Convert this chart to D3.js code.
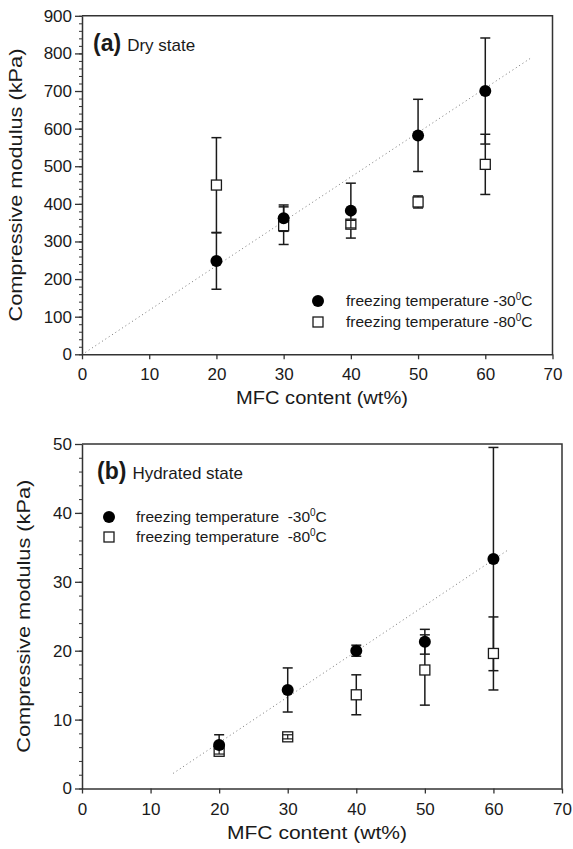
<!DOCTYPE html>
<html>
<head>
<meta charset="utf-8">
<script src="https://cdn.jsdelivr.net/npm/d3@7"></script>
<style>
  body { margin: 0; background: #fff; }
  svg { display: block; font-family: "Liberation Sans", Arial, sans-serif; }
</style>
</head>
<body>
<script>
// MFC content (wt%)
const mfc = [20, 30, 40, 50, 60];

// (a) dry state, kPa
const dryMod30 = [248, 362, 382, 582, 700];
const dryErr30 = [75, 35, 73, 96, 141];
const dryMod80 = [450, 342, 346, 405, 505];
const dryErr80 = [126, 50, 10, 16, 80];
const dryTrend = [[0.5, 5], [66.8, 788]];

// (b) hydrated state, kPa
const hydMod30 = [6.3, 14.3, 20.0, 21.3, 33.3];
const hydErr30 = [1.5, 3.2, 0.8, 1.8, 16.2];
const hydMod80 = [5.4, 7.5, 13.6, 17.2, 19.6];
const hydErr80 = [0.4, 0.3, 2.9, 5.1, 5.3];
const hydTrend = [[13.3, 2.2], [62.1, 34.6]];

const xTicks = [0, 10, 20, 30, 40, 50, 60, 70];
const dryYTicks = [0, 100, 200, 300, 400, 500, 600, 700, 800, 900];
const hydYTicks = [0, 10, 20, 30, 40, 50];

const W = 573, H = 849;
const svg = d3.select("body").append("svg")
  .attr("width", W).attr("height", H)
  .attr("viewBox", [0, 0, W, H]);

const ink = "#1a1a1a";

function drawPanel(p) {
  const x = d3.scaleLinear().domain([0, 70]).range([p.left, p.right]);
  const y = d3.scaleLinear().domain([0, p.ymax]).range([p.bottom, p.top]);
  const g = svg.append("g");

  // frame top / right
  g.append("path")
    .attr("d", `M${p.left},${p.top}H${p.right}V${p.bottom}`)
    .attr("fill", "none").attr("stroke", "#333").attr("stroke-width", 1.5);

  // minor y ticks
  g.append("g")
    .attr("transform", `translate(${p.left},0)`)
    .call(d3.axisLeft(y).tickValues(d3.range(0, p.ymax + 0.001, p.minor)).tickSize(3).tickFormat(""))
    .call(a => a.select(".domain").remove())
    .selectAll("line").attr("stroke", "#333").attr("stroke-width", 1);

  // y axis
  const ya = g.append("g")
    .attr("transform", `translate(${p.left},0)`)
    .call(d3.axisLeft(y).tickValues(p.yTicks).tickSize(7).tickPadding(3).tickSizeOuter(0));
  ya.select(".domain").attr("stroke", "#333").attr("stroke-width", 1.5);
  ya.selectAll(".tick line").attr("stroke", "#333").attr("stroke-width", 1.3);
  ya.selectAll("text").attr("font-size", 17).attr("fill", ink)
    .attr("font-family", "Liberation Sans, Arial, sans-serif");

  // x axis
  const xa = g.append("g")
    .attr("transform", `translate(0,${p.bottom})`)
    .call(d3.axisBottom(x).tickValues(xTicks).tickSize(5).tickPadding(9).tickSizeOuter(0));
  xa.select(".domain").attr("stroke", "#333").attr("stroke-width", 1.5);
  xa.selectAll(".tick line").attr("stroke", "#333").attr("stroke-width", 1.3);
  xa.selectAll("text").attr("font-size", 17).attr("fill", ink)
    .attr("font-family", "Liberation Sans, Arial, sans-serif");

  // axis titles
  g.append("text")
    .attr("transform", `translate(${p.yTitleX},${(p.top + p.bottom) / 2}) rotate(-90)`)
    .attr("text-anchor", "middle").attr("font-size", 19).attr("fill", ink)
    .attr("textLength", 273).attr("lengthAdjust", "spacingAndGlyphs")
    .text("Compressive modulus (kPa)");
  g.append("text")
    .attr("x", p.xTitleX).attr("y", p.xTitleY)
    .attr("text-anchor", "middle").attr("font-size", 18).attr("fill", ink)
    .attr("textLength", p.xTitleLen).attr("lengthAdjust", "spacingAndGlyphs")
    .text("MFC content (wt%)");

  // panel label
  const lab = g.append("text").attr("x", p.labX).attr("y", p.labY).attr("fill", ink);
  lab.append("tspan").attr("font-size", 23).attr("font-weight", "bold").text(p.tag);
  lab.append("tspan").attr("font-size", 17).attr("dx", 6).text(p.title);

  // trend line
  g.append("line")
    .attr("x1", x(p.trend[0][0])).attr("y1", y(p.trend[0][1]))
    .attr("x2", x(p.trend[1][0])).attr("y2", y(p.trend[1][1]))
    .attr("stroke", "#777").attr("stroke-width", 1).attr("stroke-dasharray", "1,3");

  const s30 = mfc.map((m, i) => ({ x: m, v: p.m30[i], e: p.e30[i] }));
  const s80 = mfc.map((m, i) => ({ x: m, v: p.m80[i], e: p.e80[i] }));
  const cap = 5;

  function bars(data) {
    const b = g.append("g").attr("stroke", ink).attr("stroke-width", 1.5);
    data.forEach(d => {
      const cx = x(d.x), y1 = y(d.v + d.e), y2 = y(d.v - d.e);
      b.append("line").attr("x1", cx).attr("x2", cx).attr("y1", y1).attr("y2", y2);
      b.append("line").attr("x1", cx - cap).attr("x2", cx + cap).attr("y1", y1).attr("y2", y1);
      b.append("line").attr("x1", cx - cap).attr("x2", cx + cap).attr("y1", y2).attr("y2", y2);
    });
  }
  bars(s30);
  bars(s80);

  // squares (-80 C)
  g.append("g").selectAll("rect").data(s80).join("rect")
    .attr("x", d => x(d.x) - 5).attr("y", d => y(d.v) - 5)
    .attr("width", 10).attr("height", 10)
    .attr("fill", "#fff").attr("stroke", ink).attr("stroke-width", 1.3);

  // small error bars show inside the square
  const inner = s80.filter(d => Math.abs(y(d.v + d.e) - y(d.v)) < 5);
  const ib = g.append("g").attr("stroke", ink).attr("stroke-width", 1.2);
  inner.forEach(d => {
    const cx = x(d.x), y1 = y(d.v + d.e), y2 = y(d.v - d.e);
    ib.append("line").attr("x1", cx).attr("x2", cx).attr("y1", y1).attr("y2", y2 + 0.01);
    ib.append("line").attr("x1", cx - 5).attr("x2", cx + 5).attr("y1", y1).attr("y2", y1);
    ib.append("line").attr("x1", cx - 5).attr("x2", cx + 5).attr("y1", y2).attr("y2", y2);
  });

  // circles (-30 C)
  g.append("g").selectAll("circle").data(s30).join("circle")
    .attr("cx", d => x(d.x)).attr("cy", d => y(d.v)).attr("r", 6)
    .attr("fill", "#000");

  // legend
  const leg = g.append("g").attr("fill", ink);
  leg.append("circle").attr("cx", p.legX).attr("cy", p.legY).attr("r", 6).attr("fill", "#000");
  leg.append("rect").attr("x", p.legX - 5).attr("y", p.legY + p.legGap - 5)
    .attr("width", 10).attr("height", 10).attr("fill", "#fff").attr("stroke", ink).attr("stroke-width", 1.3);
  p.legText.forEach((t, i) => {
    const tx = leg.append("text").attr("x", p.legTextX).attr("y", p.legY + i * p.legGap + 5)
      .attr("font-size", 15.5).attr("xml:space", "preserve");
    tx.append("tspan").text(t);
    tx.append("tspan").attr("font-size", 10).attr("dy", -6).text("0");
    tx.append("tspan").attr("dy", 6).text("C");
  });
}

drawPanel({
  left: 82, right: 552.5, top: 15.8, bottom: 354.3, ymax: 900, minor: 20,
  yTicks: dryYTicks, m30: dryMod30, e30: dryErr30, m80: dryMod80, e80: dryErr80,
  trend: dryTrend, tag: "(a)", title: "Dry state", labX: 93, labY: 51,
  yTitleX: 22, xTitleX: 322, xTitleY: 404, xTitleLen: 172,
  legX: 318, legY: 301, legGap: 21, legTextX: 346,
  legText: ["freezing temperature -30", "freezing temperature -80"]
});

drawPanel({
  left: 82, right: 562, top: 444, bottom: 788.5, ymax: 50, minor: 2,
  yTicks: hydYTicks, m30: hydMod30, e30: hydErr30, m80: hydMod80, e80: hydErr80,
  trend: hydTrend, tag: "(b)", title: "Hydrated state", labX: 97, labY: 479,
  yTitleX: 30, xTitleX: 317, xTitleY: 839, xTitleLen: 180,
  legX: 109, legY: 517, legGap: 20, legTextX: 136,
  legText: ["freezing temperature  -30", "freezing temperature  -80"]
});
</script>
</body>
</html>
